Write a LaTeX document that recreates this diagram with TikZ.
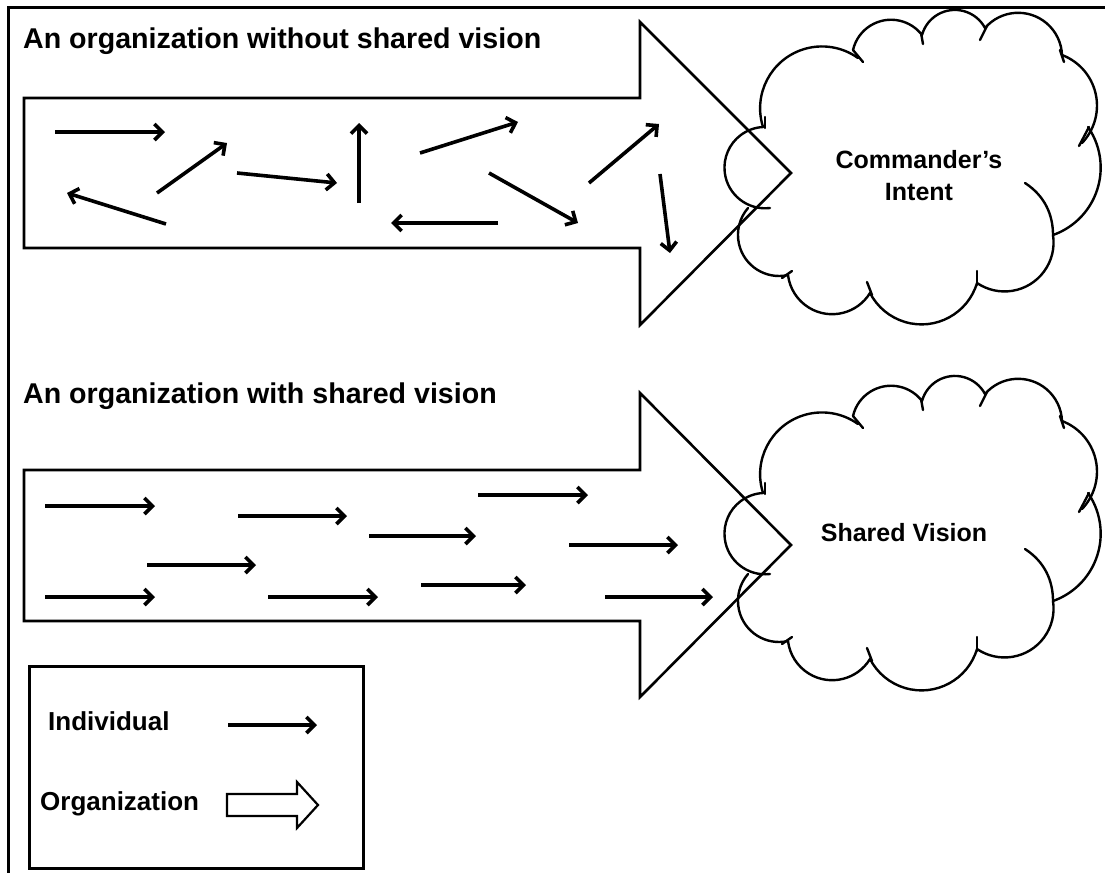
\documentclass[tikz,border=0pt]{standalone}
\usepackage{fontspec}
\setmainfont{Liberation Sans}
\usetikzlibrary{arrows.meta,calc}
\tikzset{
  frameline/.style={line width=3pt},
  orgarrow/.style={line width=2.6pt, line join=miter},
  indiv/.style={line width=3.6pt, -{Straight Barb[length=8pt,width=16pt]}},
  cloudline/.style={line width=2.4pt, line cap=round},
  title/.style={anchor=base west, inner sep=0pt, font=\fontsize{28.6}{32}\selectfont\bfseries},
  cloudtext/.style={align=center, inner sep=0pt, font=\fontsize{25}{32}\selectfont\bfseries},
  legtext/.style={anchor=base west, inner sep=0pt, font=\fontsize{26}{30}\selectfont\bfseries},
}
% circular bump from A through (approx.) peak P to B
\newcommand\cbump[6]{%
  \pgfmathsetmacro\cbdx{#5-#1}\pgfmathsetmacro\cbdy{#6-#2}%
  \pgfmathsetmacro\cbL{sqrt(\cbdx*\cbdx+\cbdy*\cbdy)}%
  \pgfmathsetmacro\cbnx{\cbdy/\cbL}\pgfmathsetmacro\cbny{-\cbdx/\cbL}%
  \pgfmathsetmacro\cbmx{(#1+#5)/2}\pgfmathsetmacro\cbmy{(#2+#6)/2}%
  \pgfmathsetmacro\cbs{1.1*((#3-\cbmx)*\cbnx+(#4-\cbmy)*\cbny)}%
  \pgfmathsetmacro\cbc{\cbL/2}%
  \pgfmathsetmacro\cbr{(\cbc*\cbc+\cbs*\cbs)/(2*\cbs)}%
  \pgfmathsetmacro\cbox{\cbmx+(\cbs-\cbr)*\cbnx}\pgfmathsetmacro\cboy{\cbmy+(\cbs-\cbr)*\cbny}%
  \pgfmathsetmacro\cbsa{atan2(#2-\cboy,#1-\cbox)}%
  \pgfmathsetmacro\cbpa{atan2(\cbny,\cbnx)}%
  \pgfmathsetmacro\cbea{atan2(#6-\cboy,#5-\cbox)}%
  \pgfmathsetmacro\cbda{mod(\cbpa-\cbsa+540,360)-180}%
  \pgfmathsetmacro\cbdb{mod(\cbea-\cbpa+540,360)-180}%
  \pgfmathsetmacro\cbend{\cbsa+\cbda+\cbdb}%
  \draw[cloudline] (#1,#2) arc[start angle=\cbsa, end angle=\cbend, radius=\cbr];%
}
\newcommand\drawcloud{%
  \foreach \ax/\ay/\px/\py/\bx/\by in {
      763/127/787/62/858/58,
      853/50/886/22/922/35,
      922/35/952/12/985/28,
      985/28/1030/17/1062/55,
      1062/55/1093/92/1082/143,
      1088/127/1097/182/1053/235,
      1053/235/1035/278/977/283,
      977/283/925/321/870/293,
      870/293/830/312/788/275,
      788/275/742/248/748/208,
      770/208/728/166/763/127}{
    \cbump{\ax}{\ay}{\px}{\py}{\bx}{\by}
  }
  \foreach \ax/\ay/\bx/\by in {853/50/863/62, 921/33/923/44, 987/26/980/40,
      1060/50/1064/62, 1089/127/1079/146, 977/271/977/285, 867/282/872/295,
      792/271/782/278, 765/117/765/128}{
    \draw[cloudline] (\ax,\ay) -- (\bx,\by);
  }
  \draw[cloudline] (1025,183) .. controls (1045,196) and (1053,215) .. (1053,235);
}
\begin{document}
\begin{tikzpicture}[x=1pt,y=-1pt]
\useasboundingbox (0,0) rectangle (1105,873);
% outer frame
\draw[frameline] (1105,7) -- (8,7) -- (8,873);

% ---------- top: without shared vision ----------
\node[title] (t1) at (23,48) {An organization without shared vision};
\draw[orgarrow] (24,98) -- (640,98) -- (640,22) -- (791,173) -- (640,325) -- (640,248) -- (24,248) -- cycle;
\drawcloud
\node[cloudtext] (cmd) at (919,176) {Commander’s\\Intent};

\draw[indiv] (55,132) -- (165,132);
\draw[indiv] (166,224) -- (67,193);
\draw[indiv] (157,193) -- (227,143);
\draw[indiv] (237,173) -- (337,183);
\draw[indiv] (359,203) -- (359,123);
\draw[indiv] (420,153) -- (518,122);
\draw[indiv] (498,223) -- (391,223);
\draw[indiv] (489,173) -- (578,223);
\draw[indiv] (589,183) -- (659,124);
\draw[indiv] (660,174) -- (670,253);

% ---------- bottom: with shared vision ----------
\node[title] (t2) at (23,403) {An organization with shared vision};
\draw[orgarrow] (24,470) -- (640,470) -- (640,393) -- (791,545) -- (640,697) -- (640,621) -- (24,621) -- cycle;
\begin{scope}[shift={(0,366)}]
  \drawcloud
\end{scope}
\node[cloudtext] (sv) at (904,533) {Shared Vision};

\draw[indiv] (45,506) -- (155,506);
\draw[indiv] (238,516) -- (347,516);
\draw[indiv] (478,495) -- (588,495);
\draw[indiv] (369,536) -- (476,536);
\draw[indiv] (569,545) -- (678,545);
\draw[indiv] (147,565) -- (256,565);
\draw[indiv] (45,597) -- (155,597);
\draw[indiv] (268,597) -- (378,597);
\draw[indiv] (421,585) -- (526,585);
\draw[indiv] (605,597) -- (713,597);

% ---------- legend ----------
\draw[frameline] (29,666) rectangle (363,868);
\node[legtext] (lind) at (48,730) {Individual};
\draw[indiv] (228,725) -- (317,725);
\node[legtext] (lorg) at (40,810) {Organization};
\draw[line width=2.2pt] (227,794) -- (297,794) -- (297,782) -- (318,805) -- (297,828) -- (297,816) -- (227,816) -- cycle;
\end{tikzpicture}
\end{document}
